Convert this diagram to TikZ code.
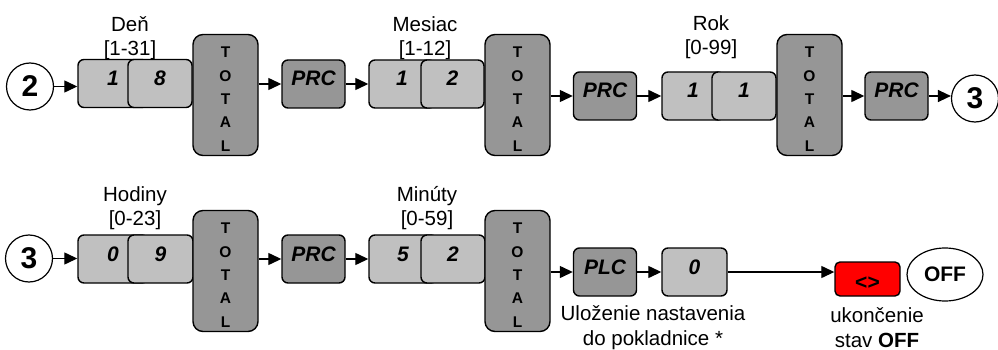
\documentclass[tikz,border=0pt]{standalone}
\usepackage{fontspec}
\setmainfont{Liberation Sans}
\usetikzlibrary{arrows.meta,shapes.geometric}
\definecolor{kbLight}{HTML}{C0C0C0}
\definecolor{kbDark}{HTML}{969696}
\definecolor{kbRed}{HTML}{FF0000}
\newcommand{\keyfont}{\fontsize{21}{24}\selectfont\bfseries\itshape}
\newcommand{\totalword}{\rule{0pt}{19pt}T\\O\\T\\A\\L}

\begin{document}
\begin{tikzpicture}[x=1pt,y=-1pt,
  key/.style={draw,line width=1.4pt,rounded corners=6pt,inner sep=0pt,
    text height=14pt,text depth=10pt,font=\keyfont},
  digitkey/.style={key,fill=kbLight,minimum height=48pt},
  fnkey/.style={key,fill=kbDark,minimum width=63pt,minimum height=48pt},
  endkey/.style={key,fill=kbRed,minimum width=65pt,minimum height=34pt,
    rounded corners=5pt,text height=21pt,text depth=0pt,
    font=\fontsize{21}{24}\selectfont\bfseries},
  totalkey/.style={draw,line width=1.4pt,rounded corners=10pt,fill=kbDark,
    minimum width=65pt,minimum height=121pt,inner sep=0pt,align=center,
    font=\fontsize{15.5}{23.3}\selectfont\bfseries},
  state/.style={draw,line width=1.2pt,circle,minimum size=47pt,inner sep=0pt,
    font=\fontsize{30}{30}\selectfont\bfseries},
  offstate/.style={draw,line width=1.2pt,ellipse,minimum width=76pt,
    minimum height=53pt,inner sep=0pt,font=\fontsize{21}{24}\selectfont\bfseries},
  caption/.style={align=center,inner sep=0pt,font=\fontsize{20.5}{24.5}\selectfont},
  flow/.style={line width=1.3pt,-{Triangle[length=13pt,width=12pt]}}]
  \useasboundingbox (0,0) rectangle (998,350);
  % date: day, month, year
  \node[caption] (lday) at (130,38) {Deň\\{}[1-31]};
  \node[caption] (lmon) at (425,38) {Mesiac\\{}[1-12]};
  \node[caption] (lyear) at (711,37) {Rok\\{}[0-99]};
  \node[state] (s2) at (30,86.5) {2};
  \node[digitkey,minimum width=70pt] (d1) at (113,83.5) {1};
  \node[digitkey,minimum width=64pt] (d8) at (160,83.5) {8};
  \node[totalkey] (t1) at (225.5,95) {\totalword};
  \node[fnkey] (p1) at (313.5,84) {PRC};
  \node[digitkey,minimum width=66pt] (m1) at (402,84) {1};
  \node[digitkey,minimum width=63pt] (m2) at (452.5,84) {2};
  \node[totalkey] (t2) at (517.5,95) {\totalword};
  \node[fnkey] (p2) at (605,96) {PRC};
  \node[digitkey,minimum width=62pt] (r1) at (693,96) {1};
  \node[digitkey,minimum width=64pt] (r2) at (744,96) {1};
  \node[totalkey] (t3) at (809.5,95) {\totalword};
  \node[fnkey] (p3) at (896.5,96) {PRC};
  \node[state] (s3) at (975,98.5) {3};
  \draw[flow] (s2) -- (s2 -| d1.west);
  \draw[flow] (t1.east |- p1) -- (p1);
  \draw[flow] (p1) -- (m1);
  \draw[flow] (t2.east |- p2) -- (p2);
  \draw[flow] (p2) -- (r1);
  \draw[flow] (t3.east |- p3) -- (p3);
  \draw[flow] (p3) -- (p3 -| s3.west);
  % time: hours, minutes, then save and exit
  \node[caption] (lhour) at (135,208) {Hodiny\\{}[0-23]};
  \node[caption] (lmin) at (427,208) {Minúty\\{}[0-59]};
  \node[state] (s3b) at (29,258.5) {3};
  \node[digitkey,minimum width=70pt] (h0) at (113,259) {0};
  \node[digitkey,minimum width=65pt] (h9) at (160.5,259) {9};
  \node[totalkey] (t4) at (225.5,271) {\totalword};
  \node[fnkey] (p4) at (313.5,259) {PRC};
  \node[digitkey,minimum width=68pt] (n5) at (403,259) {5};
  \node[digitkey,minimum width=64pt] (n2) at (453,259) {2};
  \node[totalkey] (t5) at (517.5,271) {\totalword};
  \node[fnkey] (plc) at (605,272) {PLC};
  \node[digitkey,minimum width=65pt] (z0) at (694.5,272) {0};
  \node[endkey] (ex) at (867.5,279) {<>};
  \node[offstate] (off) at (945,274.5) {OFF};
  \node[caption] (lsave) at (653,327.5) {Uloženie nastavenia\\do pokladnice *};
  \node[caption] (lend) at (877,327.5) {ukončenie\\stav \textbf{OFF}};
  \draw[flow] (s3b) -- (s3b -| h0.west);
  \draw[flow] (t4.east |- p4) -- (p4);
  \draw[flow] (p4) -- (n5);
  \draw[flow] (t5.east |- plc) -- (plc);
  \draw[flow] (plc) -- (z0);
  \draw[flow] (z0) -- (z0 -| ex.west);
\end{tikzpicture}
\end{document}
